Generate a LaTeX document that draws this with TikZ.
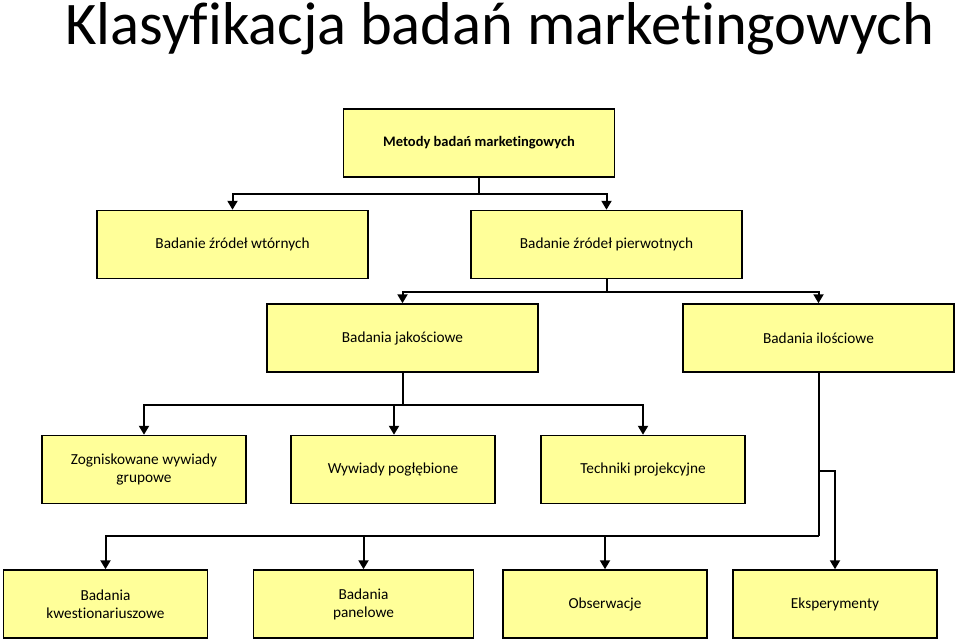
\documentclass[tikz,border=0pt]{standalone}
\usepackage{fontspec}
\setmainfont{Carlito}[Ligatures=NoCommon]
\usetikzlibrary{arrows.meta}
\definecolor{boxyellow}{HTML}{FFFF99}
\begin{document}
\begin{tikzpicture}[x=1pt, y=-1pt,
        box/.style={draw=black, line width=1.5pt, fill=boxyellow, align=center,
                    minimum width=271pt, minimum height=68pt, font=\fontsize{15.3}{18}\selectfont},
        smallbox/.style={box, minimum width=204pt},
        link/.style={line width=2pt},
        arr/.style={link, -{Triangle[length=9pt, width=10pt]}}]
    \fill[white] (0,0) rectangle (960,643);
    \useasboundingbox (0,0) rectangle (960,643);
    \node[anchor=base west, inner sep=0pt, font=\fontsize{60.5}{70}\selectfont] (title) at (65,44) {Klasyfikacja badań marketingowych};
    % rows of boxes
    \node[box, font=\fontsize{14.5}{17}\selectfont\bfseries] (metody) at (479,143) {Metody badań marketingowych};
    \node[box] (wtorne) at (232.5,244.5) {Badanie źródeł wtórnych};
    \node[box] (pierwotne) at (606.5,244.5) {Badanie źródeł pierwotnych};
    \node[box] (jakosc) at (402.5,338) {Badania jakościowe};
    \node[box] (ilosc) at (818.5,338) {Badania ilościowe};
    \node[smallbox] (fokus) at (144,469.5) {Zogniskowane wywiady\\grupowe};
    \node[smallbox] (wywiady) at (393,469.5) {Wywiady pogłębione};
    \node[smallbox] (projekt) at (643,469.5) {Techniki projekcyjne};
    \node[smallbox] (kwest) at (105.5,604) {Badania\\kwestionariuszowe};
    \node[smallbox, minimum width=220pt] (panel) at (363.5,604) {Badania\\panelowe};
    \node[smallbox] (obserw) at (605,604) {Obserwacje};
    \node[smallbox] (eksp) at (835,604) {Eksperymenty};
    % connectors
    \draw[link] (metody.south) -- ++(0,16) coordinate (mb);
    \draw[arr] (mb) -| (wtorne.north);
    \draw[arr] (mb) -| (pierwotne.north);
    \draw[link] (pierwotne.south) -- ++(0,13) coordinate (pb);
    \draw[arr] (pb) -| (jakosc.north);
    \draw[arr] (pb) -| (ilosc.north);
    \draw[link] (jakosc.south) -- ++(0,32) coordinate (jb);
    \draw[arr] (jb) -| (fokus.north);
    \draw[arr] (jb) -| ([xshift=1pt]wywiady.north);
    \draw[arr] (jb) -| (projekt.north);
    \draw[link] (ilosc.south) -- ++(0,163) coordinate (ib);
    \draw[arr] (ib) -| (kwest.north);
    \draw[arr] (ib) -| (panel.north);
    \draw[arr] (ib) -| (obserw.north);
    \draw[arr] ([yshift=-98pt]ilosc.south) -| (eksp.north);
\end{tikzpicture}
\end{document}
